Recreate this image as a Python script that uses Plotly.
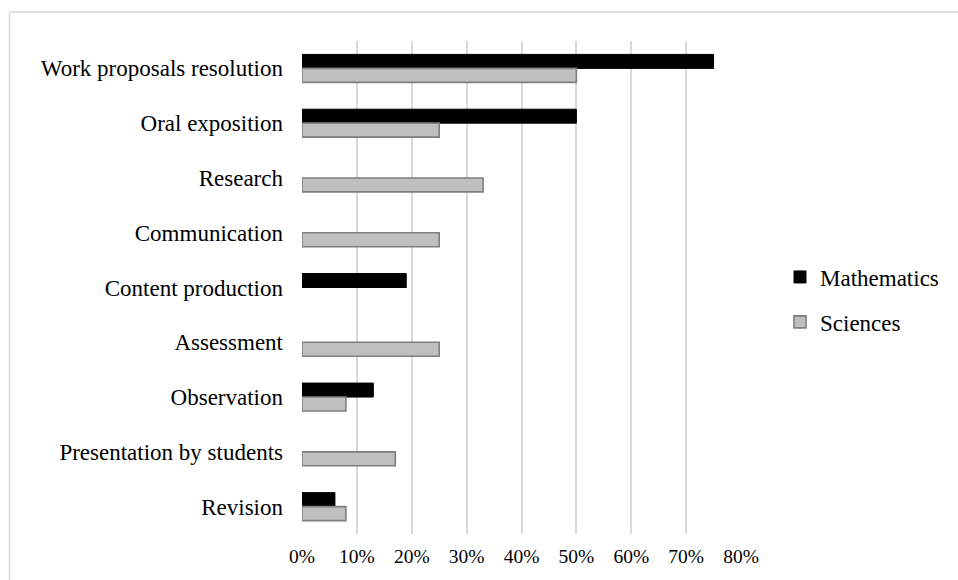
import plotly.graph_objects as go

categories = [
    "Work proposals resolution",
    "Oral exposition",
    "Research",
    "Communication",
    "Content production",
    "Assessment",
    "Observation",
    "Presentation by students",
    "Revision",
]
mathematics = [0.75, 0.50, None, None, 0.19, None, 0.13, None, 0.06]
sciences = [0.50, 0.25, 0.33, 0.25, None, 0.25, 0.08, 0.17, 0.08]
x_ticks = [0, 0.1, 0.2, 0.3, 0.4, 0.5, 0.6, 0.7, 0.8]
x_tick_labels = ["0%", "10%", "20%", "30%", "40%", "50%", "60%", "70%", "80%"]

W, H = 958, 580
L, R, T, B = 302, 217, 41, 46
FONT = "Liberation Serif, Times New Roman, serif"

fig = go.Figure()
fig.add_trace(go.Bar(
    y=categories, x=mathematics, orientation="h", name="Mathematics",
    legendgroup="m",
    marker=dict(color="#000000", line=dict(color="#000000", width=1)),
))
fig.add_trace(go.Bar(
    y=categories, x=sciences, orientation="h", name="Sciences",
    legendgroup="s",
    marker=dict(color="#bfbfbf", line=dict(color="#7f7f7f", width=1.6)),
))

# outer chart frame (open at the right and bottom edges)
pw, ph = W - L - R, H - T - B
fx0 = (9.5 - L) / pw
fy1 = (H - B - 12) / ph
fig.add_shape(type="line", xref="paper", yref="paper",
              x0=fx0, x1=fx0, y0=fy1, y1=-0.3,
              line=dict(color="#d9d9d9", width=1.5))
fig.add_shape(type="line", xref="paper", yref="paper",
              x0=fx0, x1=1.6, y0=fy1, y1=fy1,
              line=dict(color="#d9d9d9", width=1.5))

fig.update_layout(
    width=W, height=H,
    margin=dict(l=L, r=R, t=T, b=B, pad=0, autoexpand=False),
    paper_bgcolor="white", plot_bgcolor="white",
    barmode="group", bargap=0.49, bargroupgap=0,
    font=dict(family=FONT, color="#000000"),
    showlegend=True,
    legend=dict(
        x=(780 - L) / pw, xanchor="left",
        y=(H - B - 299.5) / ph, yanchor="middle",
        font=dict(family=FONT, size=23, color="#000000"),
        tracegroupgap=12, traceorder="grouped",
        bgcolor="rgba(0,0,0,0)",
    ),
    xaxis=dict(
        range=[0, 0.8], tickvals=x_ticks, ticktext=x_tick_labels,
        showgrid=True, gridcolor="#d9d9d9", gridwidth=1.5,
        zeroline=False, showline=False, ticks="",
        tickfont=dict(family=FONT, size=19.5, color="#000000"),
        ticklabelstandoff=8,
        fixedrange=True,
    ),
    yaxis=dict(
        categoryorder="array", categoryarray=categories,
        autorange="reversed",
        showgrid=False, zeroline=False, showline=False, ticks="",
        tickfont=dict(family=FONT, size=23, color="#000000"),
        ticklabelstandoff=18,
        fixedrange=True,
    ),
)

fig.write_html("out.html")
